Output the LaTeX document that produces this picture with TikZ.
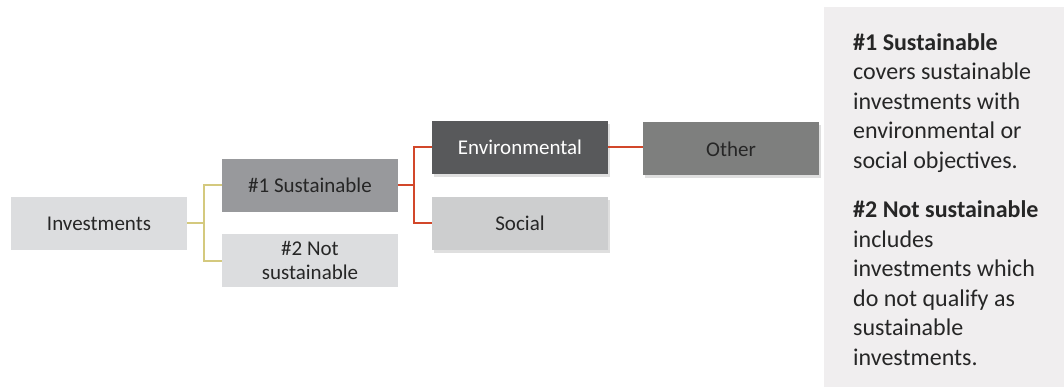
\documentclass[tikz,border=0pt]{standalone}
\usepackage{fontspec}
\setmainfont{Carlito}
\usetikzlibrary{shadows}

\definecolor{grisclaro}{HTML}{DCDDDF}
\definecolor{grismedio}{HTML}{98999C}
\definecolor{grisoscuro}{HTML}{58595B}
\definecolor{grissocial}{HTML}{CDCECF}
\definecolor{grisotro}{HTML}{7E7F7E}
\definecolor{fondopanel}{HTML}{F0EEEF}
\definecolor{lineaamarilla}{HTML}{D4C97E}
\definecolor{linearoja}{HTML}{D2472A}

\begin{document}
\begin{tikzpicture}[x=1pt, y=-1pt]
  % Definir estilos
  \tikzset{
    caja/.style={minimum width=176pt, minimum height=53pt, inner sep=0pt,
      align=center, font=\fontsize{21}{24}\selectfont, text=black!85},
    sombra/.style={drop shadow={shadow xshift=1.5pt, shadow yshift=-3pt,
      fill=black!25, opacity=0.5}},
    rama_amarilla/.style={lineaamarilla, line width=2pt},
    rama_roja/.style={linearoja, line width=2pt}
  }
  \useasboundingbox (0,0) rectangle (1064,387);

  % Panel de la derecha
  \fill[fondopanel] (824,7) rectangle (1064,387);
  \node[anchor=north west, align=left, inner sep=0pt, text=black!85,
    font=\fontsize{24}{29.5}\selectfont] (nota) at (853,33)
    {\textbf{\#1 Sustainable}\\ covers sustainable\\ investments with\\
     environmental or\\ social objectives.\\[20pt]
     \textbf{\#2 Not sustainable}\\ includes\\ investments which\\
     do not qualify as\\ sustainable\\ investments.};

  % Cajas del arbol
  \node[caja, fill=grisclaro] (inv) at (99,223.5) {Investments};
  \node[caja, fill=grismedio] (sus) at (310,185.5) {\#1 Sustainable};
  \node[caja, fill=grisclaro] (nosus) at (310,260.5) {\#2 Not\\ sustainable};
  \node[caja, sombra, fill=grisoscuro, text=white] (env) at (520,147.5) {Environmental};
  \node[caja, sombra, fill=grissocial] (soc) at (520,223.5) {Social};
  \node[caja, sombra, fill=grisotro] (otro) at (731,149) {Other};

  % Ramas
  \draw[rama_amarilla] (inv.east) -- ++(17,0) |- (sus.west);
  \draw[rama_amarilla] (inv.east) -- ++(17,0) |- (nosus.west);
  \draw[rama_roja] (sus.east) -- ++(16,0) |- (env.west);
  \draw[rama_roja] (sus.east) -- ++(16,0) |- (soc.west);
  \draw[rama_roja] (env.east) -- (env.east -| otro.west);
\end{tikzpicture}
\end{document}
